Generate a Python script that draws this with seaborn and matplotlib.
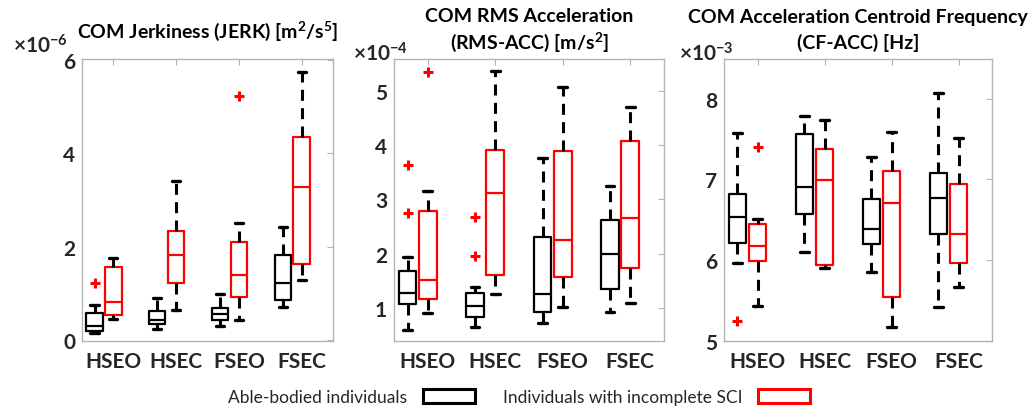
import numpy as np
import matplotlib
matplotlib.use("Agg")
import matplotlib.pyplot as plt
import seaborn as sns
from matplotlib.patches import Patch

conditions = ["HSEO", "HSEC", "FSEO", "FSEC"]
groups = ["Able-bodied individuals", "Individuals with incomplete SCI"]

# Five-number summaries per condition: [lower whisker, Q1, median, Q3, upper whisker]
# COM jerkiness, x1e-6 m^2/s^5
jerk_able = [[0.15, 0.19, 0.30, 0.58, 0.74],
             [0.22, 0.33, 0.43, 0.61, 0.89],
             [0.30, 0.43, 0.56, 0.68, 0.98],
             [0.71, 0.85, 1.21, 1.82, 2.43]]
jerk_sci = [[0.44, 0.53, 0.80, 1.56, 1.75],
            [0.64, 1.21, 1.82, 2.33, 3.40],
            [0.42, 0.92, 1.39, 2.09, 2.50],
            [1.28, 1.63, 3.28, 4.36, 5.74]]
jerk_able_out = [[1.21], [], [], []]
jerk_sci_out = [[], [], [5.24], []]

# COM RMS acceleration, x1e-4 m/s^2
rms_able = [[0.59, 1.07, 1.28, 1.69, 1.94],
            [0.64, 0.84, 1.03, 1.27, 1.39],
            [0.72, 0.93, 1.26, 2.30, 3.77],
            [0.92, 1.34, 2.00, 2.62, 3.24]]
rms_sci = [[0.91, 1.17, 1.52, 2.79, 3.16],
           [1.25, 1.61, 3.12, 3.92, 5.37],
           [1.01, 1.57, 2.25, 3.90, 5.07],
           [1.09, 1.74, 2.66, 4.08, 4.71]]
rms_able_out = [[2.75, 3.64], [1.95, 2.67], [], []]
rms_sci_out = [[5.35], [], [], []]

# COM acceleration centroid frequency, x1e-3 Hz
cf_able = [[5.96, 6.21, 6.54, 6.82, 7.58],
           [6.10, 6.57, 6.90, 7.56, 7.78],
           [5.86, 6.20, 6.39, 6.76, 7.28],
           [5.42, 6.33, 6.77, 7.08, 8.07]]
cf_sci = [[5.43, 5.99, 6.17, 6.45, 6.51],
          [5.90, 5.94, 6.99, 7.38, 7.73],
          [5.17, 5.54, 6.71, 7.10, 7.59],
          [5.67, 5.97, 6.33, 6.94, 7.51]]
cf_able_out = [[5.25], [], [], []]
cf_sci_out = [[7.40], [], [], []]

sns.set_style("white")
plt.rcParams["font.family"] = ["Lato", "DejaVu Sans"]
plt.rcParams["mathtext.fontset"] = "custom"
plt.rcParams["mathtext.rm"] = "Lato"
plt.rcParams["mathtext.bf"] = "Lato:bold"

W, H = 1031, 410
fig = plt.figure(figsize=(W / 100, H / 100), dpi=100)


def px_axes(left, right, top, bottom):
    return fig.add_axes([left / W, (H - bottom) / H, (right - left) / W, (bottom - top) / H])


panels = [
    dict(rect=(82, 333, 60, 342), able=jerk_able, sci=jerk_sci,
         able_out=jerk_able_out, sci_out=jerk_sci_out,
         ylim=(-0.03, 6.03), yticks=[0, 2, 4, 6], pad=16,
         title=[r"COM Jerkiness (JERK) [m$^{\mathbf{2}}$/s$^{\mathbf{5}}$]"],
         expo=r"$\mathbf{\times10^{-6}}$", expo_xy=(68, 46)),
    dict(rect=(394, 664, 60, 342), able=rms_able, sci=rms_sci,
         able_out=rms_able_out, sci_out=rms_sci_out,
         ylim=(0.39, 5.59), yticks=[1, 2, 3, 4, 5], pad=8,
         title=["COM RMS Acceleration", r"(RMS-ACC) [m/s$^{\mathbf{2}}$]"],
         expo=r"$\mathbf{\times10^{-4}}$", expo_xy=(408, 54)),
    dict(rect=(724, 992, 60, 342), able=cf_able, sci=cf_sci,
         able_out=cf_able_out, sci_out=cf_sci_out,
         ylim=(5.0, 8.49), yticks=[5, 6, 7, 8], pad=8,
         title=["COM Acceleration Centroid Frequency", "(CF-ACC) [Hz]"],
         expo=r"$\mathbf{\times10^{-3}}$", expo_xy=(734, 54)),
]

positions = np.arange(1, len(conditions) + 1)
offsets = {"able": -0.3, "sci": 0.0}
colors = {"able": "black", "sci": "red"}


def draw_group(ax, summaries, outliers, key):
    x = np.repeat(positions + offsets[key], 5)
    y = np.concatenate(summaries)
    # box and median in the group colour, whiskers and caps always black
    sns.boxplot(x=x, y=y, native_scale=True, orient="x", fill=False,
                color=colors[key], width=0.26, whis=(0, 100), showfliers=False,
                linewidth=1.6,
                whiskerprops=dict(linestyle=(0, (3.6, 2.4)), linewidth=2.2,
                                  color="black"),
                capprops=dict(linewidth=2.4, color="black"),
                ax=ax)
    ox, oy = [], []
    for p, vals in zip(positions, outliers):
        for v in vals:
            ox.append(p + offsets[key])
            oy.append(v)
    if ox:
        sns.scatterplot(x=ox, y=oy, marker="+", color="red", s=45,
                        linewidth=2.2, ax=ax, legend=False, zorder=5)


for pdef in panels:
    ax = px_axes(*pdef["rect"])
    draw_group(ax, pdef["able"], pdef["able_out"], "able")
    draw_group(ax, pdef["sci"], pdef["sci_out"], "sci")
    ax.set_xlim(0.5, 4.5)
    ax.set_ylim(*pdef["ylim"])
    ax.set_xticks(positions)
    ax.set_xticklabels(conditions)
    ax.set_yticks(pdef["yticks"])
    ax.set_yticklabels([str(t) for t in pdef["yticks"]])
    ax.set_xlabel("")
    ax.set_ylabel("")
    ax.tick_params(direction="in", length=4, width=0.8, color="#b4b4b4",
                   top=True, right=True, labelsize=15, labelcolor="#262626")
    ax.tick_params(axis="x", pad=7)
    ax.tick_params(axis="y", pad=5)
    for lab in ax.get_xticklabels() + ax.get_yticklabels():
        lab.set_fontweight("bold")
    for s in ax.spines.values():
        s.set_visible(True)
        s.set_color("#b4b4b4")
        s.set_linewidth(1.0)
    # last title line sits on the axes, earlier lines stacked above it
    lines = pdef["title"]
    ax.set_title(lines[-1], fontsize=14, fontweight="bold", color="black",
                 pad=pdef["pad"])
    for k, line in enumerate(reversed(lines[:-1]), start=1):
        ax.annotate(line, xy=(0.5, 1), xycoords="axes fraction",
                    xytext=(0, pdef["pad"] + 19 * k), textcoords="offset points",
                    ha="center", va="baseline", fontsize=14, fontweight="bold",
                    color="black")
    ex, ey = pdef["expo_xy"]
    fig.text(ex / W, 1 - ey / H, pdef["expo"], ha="right", va="center",
             fontsize=15, color="#262626")

handles = [Patch(facecolor="white", edgecolor="black", linewidth=2.2),
           Patch(facecolor="white", edgecolor="red", linewidth=2.2)]
fig.legend(handles=handles, labels=groups, loc="center",
           bbox_to_anchor=(519 / W, 1 - 398 / H), ncol=2, frameon=False,
           markerfirst=False, fontsize=12.5, handlelength=3.0, handleheight=0.9,
           handletextpad=0.9, columnspacing=1.6, labelcolor="#262626")

fig.savefig("out.png", dpi=100)
